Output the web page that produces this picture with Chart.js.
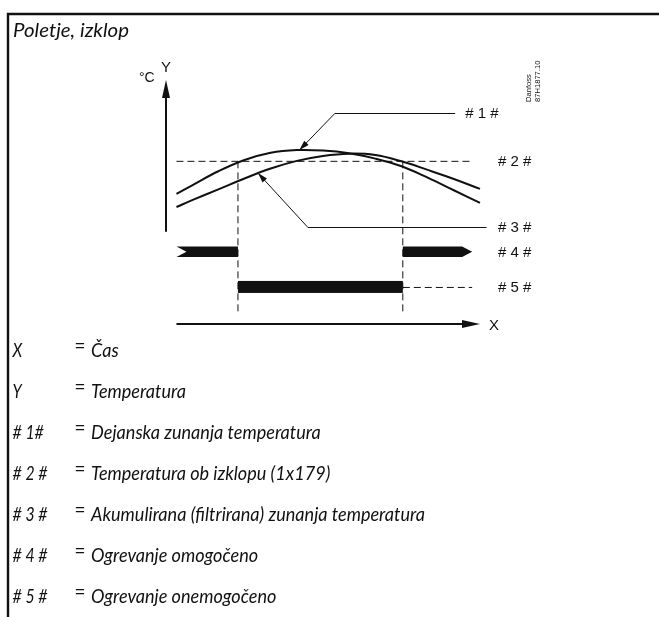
<!DOCTYPE html>
<html>
<head>
<meta charset="utf-8">
<script src="https://cdn.jsdelivr.net/npm/chart.js@4/dist/chart.umd.min.js"></script>
<style>
  html, body { margin: 0; padding: 0; background: #fff; overflow: hidden; }
  canvas { display: block; }
</style>
</head>
<body>
<canvas id="diagram" width="659" height="617"></canvas>
<script>
// Time of day (h) and outdoor temperatures (°C)
const hours        = [0.8, 2, 4, 6, 8, 10, 12, 14, 16, 18, 20, 22, 24];
const actualTemp   = [14.4, 15.35, 16.9, 18.15, 18.95, 19.25, 19.2, 18.9, 18.3, 17.45, 16.2, 14.8, 13.4];
const filteredTemp = [12.95, 13.7, 14.9, 16.1, 17.2, 18.05, 18.6, 18.85, 18.7, 18.0, 17.05, 16.05, 14.95];

// Summer cut-out limit (1x179) and resulting heating states
const cutoutTemp     = 18;
const cutoutSpan     = [0.8, 23.4];
const heatingOffSpan = [5.5, 18.1];
const heatingOnSpans = [[0.8, 5.5], [18.1, 23.4]];

// Texts
const titleText     = 'Poletje, izklop';
const calloutLabels = ['# 1 #', '# 2 #', '# 3 #', '# 4 #', '# 5 #'];
const legendKeys    = ['X', 'Y', '# 1#', '# 2 #', '# 3 #', '# 4 #', '# 5 #'];
const legendTexts   = ['Čas', 'Temperatura', 'Dejanska zunanja temperatura',
                       'Temperatura ob izklopu (1x179)', 'Akumulirana (filtrirana) zunanja temperatura',
                       'Ogrevanje omogočeno', 'Ogrevanje onemogočeno'];

const INK = '#111';
const ITALIC = 'Lato, "Open Sans", sans-serif';
const ARIAL = '"Liberation Sans", Arial, sans-serif';

function toPoints(xs, ys) { return xs.map((x, i) => ({ x, y: ys[i] })); }

function arrowHead(ctx, fx, fy, tx, ty, len, half) {
  const a = Math.atan2(ty - fy, tx - fx);
  ctx.beginPath();
  ctx.moveTo(tx, ty);
  ctx.lineTo(tx - len * Math.cos(a) + half * Math.sin(a), ty - len * Math.sin(a) - half * Math.cos(a));
  ctx.lineTo(tx - len * Math.cos(a) - half * Math.sin(a), ty - len * Math.sin(a) + half * Math.cos(a));
  ctx.closePath();
  ctx.fill();
}

function fitText(ctx, text, x, y, sx) {
  ctx.save();
  ctx.translate(x, y);
  ctx.scale(sx, 1);
  ctx.fillText(text, 0, 0);
  ctx.restore();
}

const diagramPlugin = {
  id: 'diagram',
  afterDraw(chart) {
    const { ctx, scales: { x, y } } = chart;
    const X = v => x.getPixelForValue(v);
    const Y = v => y.getPixelForValue(v);
    ctx.save();
    ctx.fillStyle = INK;
    ctx.strokeStyle = INK;

    // frame
    ctx.lineWidth = 2.4;
    ctx.beginPath();
    ctx.moveTo(8, 617); ctx.lineTo(8, 14); ctx.lineTo(659, 14);
    ctx.stroke();

    // axes
    ctx.lineWidth = 2;
    const x0 = X(0), yBase = Y(0);
    ctx.beginPath();
    ctx.moveTo(X(0.8), yBase); ctx.lineTo(X(24) - 12, yBase);
    ctx.stroke();
    arrowHead(ctx, X(0), yBase, X(24), yBase, 18, 4);
    ctx.beginPath();
    ctx.moveTo(x0, Y(10.2)); ctx.lineTo(x0, Y(27) + 12);
    ctx.stroke();
    arrowHead(ctx, x0, Y(10), x0, Y(27), 18, 4);

    // heating enabled (# 4 #)
    const r4 = Y(8.0), h4 = 5.3;
    const [a, b] = heatingOnSpans;
    ctx.beginPath();
    ctx.moveTo(X(a[0]), r4 - h4); ctx.lineTo(X(a[1]), r4 - h4);
    ctx.lineTo(X(a[1]), r4 + h4); ctx.lineTo(X(a[0]), r4 + h4);
    ctx.lineTo(X(a[0]) + 10, r4);
    ctx.closePath(); ctx.fill();
    ctx.beginPath();
    ctx.moveTo(X(b[0]), r4 - h4); ctx.lineTo(X(b[1]) - 10, r4 - h4);
    ctx.lineTo(X(b[1]), r4); ctx.lineTo(X(b[1]) - 10, r4 + h4);
    ctx.lineTo(X(b[0]), r4 + h4);
    ctx.closePath(); ctx.fill();

    // heating disabled (# 5 #)
    const r5 = Y(4.1), h5 = 6;
    ctx.fillRect(X(heatingOffSpan[0]), r5 - h5, X(heatingOffSpan[1]) - X(heatingOffSpan[0]), 2 * h5);
    ctx.lineWidth = 1;
    ctx.setLineDash([7, 4]);
    ctx.beginPath();
    ctx.moveTo(X(heatingOffSpan[1]), r5 + 0.5); ctx.lineTo(X(23.4), r5 + 0.5);
    ctx.stroke();
    ctx.setLineDash([]);

    // callout leaders
    ctx.lineWidth = 1;
    const leaders = [
      { tip: [10.2, 19.25], elbow: [12.9, 23.35], end: [22.1, 23.35] },
      { tip: [7.03, 16.7],  elbow: [10.85, 10.73], end: [24.5, 10.73] }
    ];
    leaders.forEach(l => {
      const ex = X(l.elbow[0]), ey = Math.round(Y(l.elbow[1])) + 0.5;
      const tx = X(l.tip[0]), ty = Y(l.tip[1]);
      ctx.beginPath();
      ctx.moveTo(X(l.end[0]), ey); ctx.lineTo(ex, ey); ctx.lineTo(tx, ty);
      ctx.stroke();
      arrowHead(ctx, ex, ey, tx, ty, 10, 3);
    });

    // callout labels
    ctx.font = '15px ' + ARIAL;
    ctx.textBaseline = 'middle';
    ctx.textAlign = 'left';
    ctx.fillText(calloutLabels[0], X(22.1) + 10, Y(23.35) + 1);
    ctx.fillText(calloutLabels[1], 498, Y(cutoutTemp) + 1);
    ctx.fillText(calloutLabels[2], 498, Y(10.73) + 1);
    ctx.fillText(calloutLabels[3], 498, r4 + 1);
    ctx.fillText(calloutLabels[4], 498, r5 + 1);

    // axis names
    ctx.textBaseline = 'alphabetic';
    ctx.fillText('X', 489, 330);
    ctx.fillText('Y', 161, 72);
    ctx.font = '14px ' + ARIAL;
    ctx.fillText('°C', 139, 82);

    // drawing reference
    ctx.save();
    ctx.font = '7.6px ' + ARIAL;
    ctx.textBaseline = 'middle';
    ctx.translate(529, 102);
    ctx.rotate(-Math.PI / 2);
    ctx.fillText('Danfoss', 0, 0);
    ctx.fillText('87H1877.10', 0, 9);
    ctx.restore();

    // title and key
    const F = 'italic 18.5px ' + ITALIC;
    ctx.font = F;
    ctx.textBaseline = 'alphabetic';
    const sx = 334 / ctx.measureText(legendTexts[4]).width;
    const sxTitle = 116 / ctx.measureText(titleText).width;
    const sxKey = 35 / ctx.measureText(legendKeys[4]).width;
    fitText(ctx, titleText, 13, 36.5, sxTitle);
    const base0 = 357, step = 41;
    legendKeys.forEach((k, i) => {
      const by = base0 + i * step;
      ctx.font = F;
      fitText(ctx, k, 12.5, by, sxKey);
      fitText(ctx, legendTexts[i], 91, by, sx);
      ctx.font = '17px ' + ARIAL;
      ctx.fillText('=', 75, by - 6);
    });

    ctx.restore();
  }
};

new Chart(document.getElementById('diagram'), {
  type: 'line',
  data: {
    datasets: [
      { label: 'Dejanska zunanja temperatura', data: toPoints(hours, actualTemp),
        borderColor: INK, borderWidth: 2, tension: 0.4, clip: false },
      { label: 'Akumulirana (filtrirana) zunanja temperatura', data: toPoints(hours, filteredTemp),
        borderColor: INK, borderWidth: 2, tension: 0.4, clip: false },
      { label: 'Temperatura ob izklopu', data: toPoints(cutoutSpan, [cutoutTemp, cutoutTemp]),
        borderColor: INK, borderWidth: 1, borderDash: [7, 4], clip: false },
      { label: 'izklop', data: toPoints([heatingOffSpan[0], heatingOffSpan[0]], [cutoutTemp, 1.2]),
        borderColor: INK, borderWidth: 1, borderDash: [7, 4], clip: false },
      { label: 'vklop', data: toPoints([heatingOffSpan[1], heatingOffSpan[1]], [cutoutTemp, 1.2]),
        borderColor: INK, borderWidth: 1, borderDash: [7, 4], clip: false }
    ]
  },
  options: {
    responsive: false,
    animation: false,
    events: [],
    layout: { padding: { left: 166, right: 179, top: 80, bottom: 293 } },
    elements: { point: { radius: 0 } },
    scales: {
      x: { type: 'linear', min: 0, max: 24, display: false },
      y: { type: 'linear', min: 0, max: 27, display: false }
    },
    plugins: { legend: { display: false }, tooltip: { enabled: false } }
  },
  plugins: [diagramPlugin]
});
</script>
</body>
</html>
